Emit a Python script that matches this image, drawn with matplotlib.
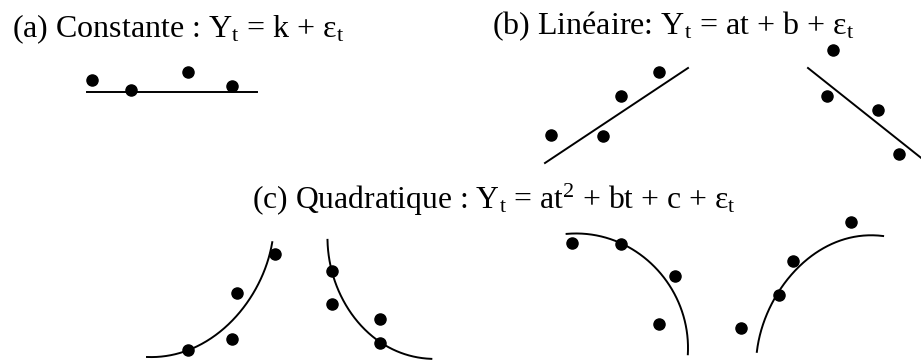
import numpy as np
import matplotlib
matplotlib.use("Agg")
import matplotlib.pyplot as plt

plt.rcParams['font.family'] = ['Liberation Serif', 'DejaVu Serif']
plt.rcParams['mathtext.fontset'] = 'custom'
plt.rcParams['mathtext.rm'] = 'Liberation Serif'
plt.rcParams['mathtext.it'] = 'Liberation Serif'

# ---- titles ----
title_a = "(a) Constante : Y$_\\mathrm{t}$ = k + ε$_\\mathrm{t}$"
title_b = "(b) Linéaire: Y$_\\mathrm{t}$ = at + b + ε$_\\mathrm{t}$"
title_c = "(c) Quadratique : Y$_\\mathrm{t}$ = at$^\\mathrm{2}$ + bt + c + ε$_\\mathrm{t}$"

# ---- (a) constant ----
a_x = [92, 131, 188, 232]
a_y = [80, 90, 72, 86]
a_line_x = [87, 257]
a_line_y = [92, 92]

# ---- (b) linear ----
b1_x = [551, 603, 621, 659]
b1_y = [135, 136, 96, 72]
b1_line_x = [545, 688]
b1_line_y = [163, 68]
b2_x = [833, 827, 878, 899]
b2_y = [50, 96, 110, 154]
b2_line_x = [808, 925]
b2_line_y = [68, 161]

# ---- (c) quadratic: dots and points ----
c1_x = [188, 232, 237, 275]
c1_y = [350, 339, 293, 254]
c1_curve_x = [147, 188, 220, 240, 257, 268, 272]
c1_curve_y = [357, 350, 333, 310, 287, 262, 242]

c2_x = [332, 332, 380, 380]
c2_y = [271, 304, 319, 343]
c2_curve_x = [327, 333, 343, 360, 380, 403, 431]
c2_curve_y = [240, 270, 302, 325, 342, 353, 359]

c3_x = [572, 621, 675, 659]
c3_y = [243, 244, 276, 324]
c3_curve_x = [567, 593, 622, 647, 667, 680, 688]
c3_curve_y = [233, 237, 243, 258, 282, 308, 354]

c4_x = [741, 779, 793, 851]
c4_y = [328, 295, 261, 222]
c4_curve_x = [757, 763, 778, 797, 823, 850, 883]
c4_curve_y = [352, 322, 295, 268, 248, 238, 236]


def smooth_through(px, py, deg=3, n=200):
    """Smooth parametric polynomial fitted to the read points (chord-length parameter)."""
    px = np.asarray(px, float)
    py = np.asarray(py, float)
    s = np.concatenate([[0], np.cumsum(np.hypot(np.diff(px), np.diff(py)))])
    s = s / s[-1]
    fx = np.polyfit(s, px, deg)
    fy = np.polyfit(s, py, deg)
    t = np.linspace(0, 1, n)
    return np.polyval(fx, t), np.polyval(fy, t)


fig = plt.figure(figsize=(9.21, 3.6), dpi=100)
ax = fig.add_axes([0, 0, 1, 1])
ax.set_xlim(0, 921)
ax.set_ylim(360, 0)
ax.axis('off')

lw = 1.4
ms = 8
fs = 23

ax.text(12, 37, title_a, fontsize=fs, va='baseline', ha='left')
ax.text(492, 34, title_b, fontsize=fs, va='baseline', ha='left')
ax.text(252, 209, title_c, fontsize=22.8, va='baseline', ha='left')

ax.plot(a_line_x, a_line_y, color='black', lw=lw)
ax.plot(a_x, a_y, 'o', color='black', ms=ms)

ax.plot(b1_line_x, b1_line_y, color='black', lw=lw)
ax.plot(b1_x, b1_y, 'o', color='black', ms=ms)
ax.plot(b2_line_x, b2_line_y, color='black', lw=lw)
ax.plot(b2_x, b2_y, 'o', color='black', ms=ms)

for cx, cy, kx, ky in [(c1_x, c1_y, c1_curve_x, c1_curve_y),
                       (c2_x, c2_y, c2_curve_x, c2_curve_y),
                       (c3_x, c3_y, c3_curve_x, c3_curve_y),
                       (c4_x, c4_y, c4_curve_x, c4_curve_y)]:
    bx, by = smooth_through(kx, ky)
    ax.plot(bx, by, color='black', lw=lw)
    ax.plot(cx, cy, 'o', color='black', ms=ms)

fig.savefig('out.png', dpi=100)
